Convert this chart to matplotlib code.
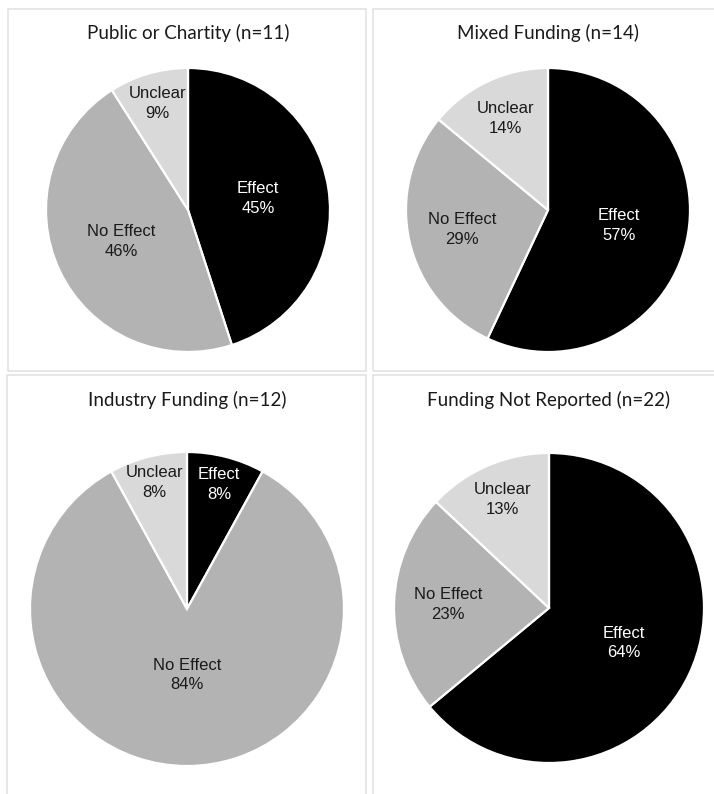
import numpy as np
import matplotlib
matplotlib.use("Agg")
import matplotlib.pyplot as plt
from matplotlib.patches import Rectangle

# --- Data: share of studies by outcome, per funding source ---
categories = ["Effect", "No Effect", "Unclear"]
titles = [
    "Public or Chartity (n=11)",
    "Mixed Funding (n=14)",
    "Industry Funding (n=12)",
    "Funding Not Reported (n=22)",
]
public_pct = [45, 46, 9]
mixed_pct = [57, 29, 14]
industry_pct = [8, 84, 8]
not_reported_pct = [64, 23, 13]
panel_values = [public_pct, mixed_pct, industry_pct, not_reported_pct]

colors = ["#000000", "#b3b3b3", "#d9d9d9"]
text_colors = ["white", "#1a1a1a", "#1a1a1a"]

W, H = 714, 794
fig = plt.figure(figsize=(W / 100, H / 100), dpi=100)

# panel frames in pixels: (left, top, right, bottom)
frames = [(8, 9, 366, 371), (373, 9, 730, 371),
          (7, 375, 366, 810), (373, 375, 730, 810)]
# pie centre and radius in pixels
pies = [(188, 210, 142), (548, 210, 142), (187, 609, 157), (549, 608, 155)]
title_y = [33, 33, 400, 400]
# radial position of each label (fraction of radius)
label_r = [[0.50, 0.52, 0.78], [0.51, 0.62, 0.71],
           [0.82, 0.42, 0.83], [0.53, 0.65, 0.76]]

for (l, t, r, b) in frames:
    fig.patches.append(Rectangle((l / W, 1 - b / H), (r - l) / W, (b - t) / H,
                                 transform=fig.transFigure, fill=False,
                                 edgecolor="#e0e0e0", linewidth=1.1))

for i, vals in enumerate(panel_values):
    cx, cy, rad = pies[i]
    ax = fig.add_axes([(cx - rad) / W, 1 - (cy + rad) / H, 2 * rad / W, 2 * rad / H])
    wedges, _ = ax.pie(vals, colors=colors, startangle=90, counterclock=False,
                       radius=1.0, wedgeprops=dict(edgecolor="white", linewidth=1.6))
    ax.set_xlim(-1, 1)
    ax.set_ylim(-1, 1)
    ax.set_aspect("equal")
    ax.axis("off")

    for j, w in enumerate(wedges):
        ang = np.deg2rad((w.theta1 + w.theta2) / 2)
        rr = label_r[i][j]
        ax.text(rr * np.cos(ang), rr * np.sin(ang), f"{categories[j]}\n{vals[j]}%",
                ha="center", va="center", color=text_colors[j],
                fontsize=12, family="Liberation Sans", linespacing=1.4)

    fig.text(cx / W, 1 - title_y[i] / H, titles[i], ha="center", va="center",
             fontsize=13.5, family="Lato", color="#1a1a1a")

fig.savefig("out.png", dpi=100, facecolor="white")
